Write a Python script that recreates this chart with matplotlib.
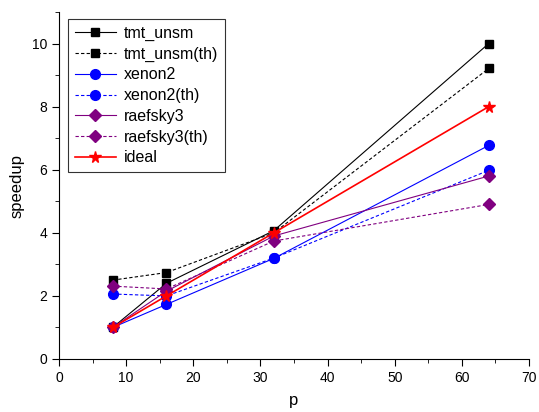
import matplotlib
matplotlib.use("Agg")
import matplotlib.pyplot as plt
from matplotlib.ticker import MultipleLocator

plt.rcParams['font.family'] = ['Liberation Sans', 'DejaVu Sans']

p = [8, 16, 32, 64]
tmt_unsm = [1.0, 2.40, 4.07, 10.0]
tmt_unsm_th = [2.50, 2.74, 4.0, 9.21]
xenon2 = [1.0, 1.73, 3.19, 6.77]
xenon2_th = [2.06, 2.0, 3.2, 5.98]
raefsky3 = [1.0, 2.15, 3.9, 5.80]
raefsky3_th = [2.31, 2.22, 3.74, 4.90]
ideal = [1, 2, 4, 8]

series = [
    ("tmt_unsm", tmt_unsm, "black", "-", "s", 6),
    ("tmt_unsm(th)", tmt_unsm_th, "black", (0, (3, 2)), "s", 6),
    ("xenon2", xenon2, "#0000ff", "-", "o", 7),
    ("xenon2(th)", xenon2_th, "#0000ff", (0, (3, 2)), "o", 7),
    ("raefsky3", raefsky3, "#800080", "-", "D", 6),
    ("raefsky3(th)", raefsky3_th, "#800080", (0, (3, 2)), "D", 6),
    ("ideal", ideal, "red", "-", "*", 8.5),
]

fig = plt.figure(figsize=(5.39, 4.12), dpi=100)
ax = fig.add_axes([59/539, 53/412, 470/539, 347/412])

for label, vals, color, ls, mk, ms in series:
    lw = 1.2 if label == "ideal" else 0.8
    ax.plot(p, vals, color=color, linestyle=ls, marker=mk, markersize=ms,
            linewidth=lw, label=label, markeredgecolor=color, markerfacecolor=color)

ax.set_xlim(0, 70)
ax.set_ylim(0, 11)
ax.xaxis.set_major_locator(MultipleLocator(10))
ax.xaxis.set_minor_locator(MultipleLocator(5))
ax.yaxis.set_major_locator(MultipleLocator(2))
ax.yaxis.set_minor_locator(MultipleLocator(1))
ax.tick_params(which='both', direction='out', top=False, right=False, labelsize=10)
ax.tick_params(which='major', length=5)
ax.tick_params(which='minor', length=3)
for s in ['top', 'right']:
    ax.spines[s].set_visible(False)
ax.set_xlabel("p", fontsize=12, labelpad=6)
ax.set_ylabel("speedup", fontsize=12, labelpad=5)

leg = ax.legend(loc='upper left', bbox_to_anchor=(0.019, 0.98), borderaxespad=0,
                fontsize=11.5, frameon=True, fancybox=False, edgecolor='black',
                labelspacing=0.36, handlelength=2.6, handletextpad=0.5, borderpad=0.42)
leg.get_frame().set_linewidth(0.8)

fig.savefig("out.png", dpi=100)
